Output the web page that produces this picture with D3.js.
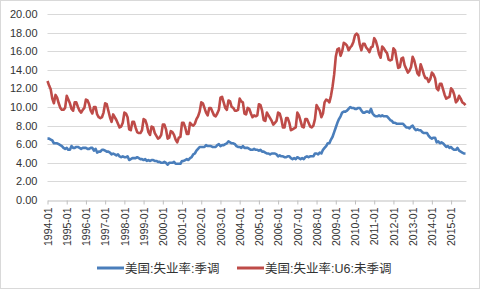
<!DOCTYPE html>
<html>
<head>
<meta charset="utf-8">
<script src="https://d3js.org/d3.v7.min.js"></script>
<style>
  body { margin: 0; background: #fff; }
  svg { display: block; font-family: "Liberation Sans", Arial, "Noto Sans CJK SC", sans-serif; }
  .grid line { stroke: #d9d9d9; stroke-width: 1; }
</style>
</head>
<body>
<script>
// US unemployment rate (SA) and U6 (NSA), monthly from 1994-01 to 2015-10
var startYear = 1994;
var seriesNames = ["美国:失业率:季调", "美国:失业率:U6:未季调"];
var seriesColors = ["#4a7ebb", "#be4b48"];

var unrateSA = [
  6.6,6.6,6.5,6.4,6.1,6.1,6.1,6.0,5.9,5.8,5.6,5.5,
  5.6,5.4,5.4,5.8,5.6,5.6,5.7,5.7,5.6,5.5,5.6,5.6,
  5.6,5.5,5.5,5.6,5.6,5.3,5.5,5.1,5.2,5.2,5.4,5.4,
  5.3,5.2,5.2,5.1,4.9,5.0,4.9,4.8,4.9,4.7,4.6,4.7,
  4.6,4.6,4.7,4.3,4.4,4.5,4.5,4.5,4.6,4.5,4.4,4.4,
  4.3,4.4,4.2,4.3,4.2,4.3,4.3,4.2,4.2,4.1,4.1,4.0,
  4.0,4.1,4.0,3.8,4.0,4.0,4.0,4.1,3.9,3.9,3.9,3.9,
  4.2,4.2,4.3,4.4,4.3,4.5,4.6,4.9,5.0,5.3,5.5,5.7,
  5.7,5.7,5.7,5.9,5.8,5.8,5.8,5.7,5.7,5.7,5.9,6.0,
  5.8,5.9,5.9,6.0,6.1,6.3,6.2,6.1,6.1,6.0,5.8,5.7,
  5.7,5.6,5.8,5.6,5.6,5.6,5.5,5.4,5.4,5.5,5.4,5.4,
  5.3,5.4,5.2,5.2,5.1,5.0,5.0,4.9,5.0,5.0,5.0,4.9,
  4.7,4.8,4.7,4.7,4.6,4.6,4.7,4.7,4.5,4.4,4.5,4.4,
  4.6,4.5,4.4,4.5,4.4,4.6,4.7,4.6,4.7,4.7,4.7,5.0,
  5.0,4.9,5.1,5.0,5.4,5.6,5.8,6.1,6.1,6.5,6.8,7.3,
  7.8,8.3,8.7,9.0,9.4,9.5,9.5,9.6,9.8,10.0,9.9,9.9,
  9.8,9.8,9.9,9.9,9.6,9.4,9.4,9.5,9.5,9.4,9.8,9.3,
  9.1,9.0,9.0,9.1,9.0,9.1,9.0,9.0,9.0,8.8,8.6,8.5,
  8.3,8.3,8.2,8.2,8.2,8.2,8.2,8.0,7.8,7.8,7.7,7.9,
  8.0,7.7,7.5,7.6,7.5,7.5,7.3,7.2,7.2,7.2,6.9,6.7,
  6.6,6.7,6.7,6.2,6.3,6.1,6.2,6.1,5.9,5.7,5.8,5.6,
  5.7,5.5,5.4,5.4,5.6,5.3,5.2,5.1,5.0,5.0
];

var u6NSA = [
  12.8,12.3,11.9,10.9,10.4,11.3,11.0,10.4,9.9,9.7,9.7,9.9,
  11.2,10.8,10.4,9.8,9.6,10.5,10.5,10.0,9.6,9.4,9.7,9.9,
  10.8,10.7,10.3,9.6,9.3,10.0,10.0,9.2,8.9,8.8,8.9,9.4,
  10.4,10.3,9.6,8.9,8.4,9.2,8.9,8.6,8.2,7.8,7.9,8.3,
  9.4,9.3,8.9,7.6,7.5,8.4,8.4,7.8,7.3,7.2,7.2,7.5,
  8.7,8.6,8.1,7.3,7.0,7.9,7.8,7.2,6.9,6.6,6.7,7.0,
  8.1,8.1,7.6,6.6,6.7,7.4,7.3,7.0,6.5,6.2,6.7,6.8,
  8.3,8.3,7.8,7.1,7.1,8.3,8.1,8.0,8.2,8.7,9.0,9.5,
  10.5,10.4,9.9,9.4,9.1,9.9,9.9,9.5,9.1,9.0,9.3,9.7,
  11.0,11.1,10.5,9.9,9.7,10.7,10.6,10.0,9.9,9.6,9.6,9.7,
  10.9,10.6,10.5,9.3,9.2,9.9,9.8,9.3,8.9,9.1,9.0,9.1,
  10.3,10.2,9.6,8.6,8.5,9.4,9.1,8.8,8.5,8.1,8.3,8.5,
  9.4,9.3,8.7,7.8,7.8,8.8,8.8,8.3,7.5,7.6,7.7,7.8,
  9.4,9.1,8.5,7.9,7.8,8.7,8.7,8.3,7.9,7.8,8.0,8.7,
  10.2,9.9,9.6,8.9,9.3,10.5,10.8,10.7,10.5,11.2,12.2,13.5,
  15.4,16.2,16.3,15.5,16.0,16.9,16.8,16.6,16.1,16.4,16.6,17.0,
  17.7,17.9,17.7,16.7,16.1,16.8,16.8,16.4,16.2,15.9,16.4,16.5,
  17.4,17.1,16.5,15.7,15.3,16.5,16.3,16.0,15.8,15.1,15.0,15.1,
  16.3,16.1,15.1,14.2,14.3,15.2,15.3,14.5,14.1,13.7,13.9,14.3,
  15.4,15.0,14.3,13.6,13.4,14.6,14.1,13.5,13.1,13.1,12.7,13.0,
  13.7,13.5,13.1,12.0,11.8,12.5,12.5,11.9,11.3,10.9,11.0,11.1,
  12.0,11.8,11.3,10.5,10.7,11.2,10.9,10.5,10.4,10.2
];

var yTicks = [0, 2, 4, 6, 8, 10, 12, 14, 16, 18, 20];
var xTickLabels = ["1994-01","1995-01","1996-01","1997-01","1998-01","1999-01","2000-01",
  "2001-01","2002-01","2003-01","2004-01","2005-01","2006-01","2007-01","2008-01",
  "2009-01","2010-01","2011-01","2012-01","2013-01","2014-01","2015-01"];

// month categories
var months = [];
for (var i = 0; i < unrateSA.length; i++) {
  var yr = startYear + Math.floor(i / 12), m = i % 12 + 1;
  months.push(yr + "-" + (m < 10 ? "0" + m : m));
}

var W = 480, H = 289;
var svg = d3.select("body").append("svg").attr("width", W).attr("height", H);

// outer chart border
svg.append("rect")
  .attr("x", 0.5).attr("y", 0.5)
  .attr("width", W - 1).attr("height", H - 1)
  .attr("fill", "#fff").attr("stroke", "#d9d9d9");

var x = d3.scalePoint().domain(months).range([47.5, 465.5]);
var y = d3.scaleLinear().domain([0, 20]).range([200, 14]);

// gridlines
svg.append("g").attr("class", "grid")
  .selectAll("line")
  .data(yTicks.filter(function(d){ return d > 0; }))
  .enter().append("line")
  .attr("x1", 47.5).attr("x2", 466.5)
  .attr("y1", function(d){ return Math.round(y(d)) + 0.5; })
  .attr("y2", function(d){ return Math.round(y(d)) + 0.5; });

// y axis labels
var yAxis = svg.append("g")
  .attr("transform", "translate(47.5,0)")
  .call(d3.axisLeft(y).tickValues(yTicks).tickFormat(d3.format(".2f")).tickSize(0).tickPadding(10));
yAxis.select(".domain").remove();
yAxis.selectAll("text").attr("font-size", 11).attr("fill", "#333")
  .attr("font-family", "Liberation Sans, Arial, sans-serif");

// x axis
var tickMonths = xTickLabels.filter(function(d){ return months.indexOf(d) >= 0; });
var xAxis = svg.append("g")
  .attr("transform", "translate(0," + (Math.round(y(0)) + 0.5) + ")")
  .call(d3.axisBottom(x).tickValues(tickMonths).tickSizeInner(4).tickSizeOuter(0));
xAxis.select(".domain").attr("stroke", "#bfbfbf");
xAxis.selectAll(".tick line").attr("stroke", "#bfbfbf");
xAxis.selectAll("text")
  .attr("font-size", 10.5).attr("fill", "#333")
  .attr("font-family", "Liberation Sans, Arial, sans-serif")
  .style("text-anchor", "end")
  .attr("transform", "rotate(-90)")
  .attr("x", -7).attr("y", 0).attr("dy", "0.35em");

// series lines
var line = d3.line()
  .x(function(d, i){ return x(months[i]); })
  .y(function(d){ return y(d); });

[u6NSA, unrateSA].forEach(function(s, k) {
  var idx = k === 0 ? 1 : 0;
  svg.append("path")
    .datum(s)
    .attr("d", line)
    .attr("fill", "none")
    .attr("stroke", seriesColors[idx])
    .attr("stroke-width", 2.6)
    .attr("stroke-linejoin", "round");
});

// legend
var legendX = [97, 237];
var legend = svg.append("g");
seriesNames.forEach(function(name, i) {
  var g = legend.append("g").attr("transform", "translate(" + legendX[i] + ",268)");
  g.append("line").attr("x1", 0).attr("x2", 27).attr("y1", 0).attr("y2", 0)
    .attr("stroke", seriesColors[i]).attr("stroke-width", 3);
  g.append("text").attr("x", 28).attr("y", 0).attr("dy", "0.36em")
    .attr("font-size", 12.5).attr("fill", "#333")
    .attr("font-family", "Liberation Sans, Arial, 'Noto Sans CJK SC', sans-serif")
    .text(name);
});
</script>
</body>
</html>
